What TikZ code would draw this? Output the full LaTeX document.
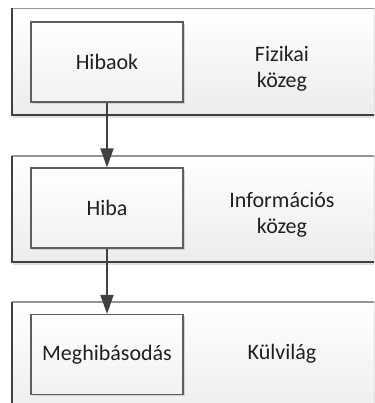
\documentclass[tikz,border=0pt]{standalone}
\usepackage{fontspec}
\setmainfont{Carlito}
\usetikzlibrary{arrows.meta,shadows}
\definecolor{edgedark}{HTML}{404040}
\definecolor{edgelight}{HTML}{959595}
\definecolor{boxedge}{HTML}{5E5E5E}
\definecolor{bandbot}{HTML}{ECECEC}
\definecolor{inktext}{HTML}{202020}
\tikzset{
  x=1pt, y=-1pt,
  band/.style={top color=white, bottom color=bandbot, draw=none},
  stepbox/.style={draw=boxedge, line width=1.2pt, top color=white, bottom color=bandbot!70!white,
    minimum width=152pt, minimum height=80pt, inner sep=0pt, text=inktext,
    font=\fontsize{22}{26}\selectfont,
    drop shadow={shadow xshift=1.6pt, shadow yshift=-1.6pt, fill=black!25, opacity=0.6}},
  label/.style={font=\fontsize{22}{26}\selectfont, align=center, text=inktext},
  flow/.style={draw=edgedark, line width=1.8pt, -{Triangle[length=19pt,width=13pt]}},
}
\begin{document}
\begin{tikzpicture}
\useasboundingbox (0,0) rectangle (374,403);
\clip (0,0) rectangle (374,403);
% three layer bands, open to the right
\foreach \t/\b in {8.5/115, 156/262, 302/420}{
  \fill[black!12] (13,\b+1) rectangle (380,\b+3);
  \fill[band] (12,\t) rectangle (380,\b);
  \draw[edgelight, line width=1.4pt] (12,\t) -- (380,\t);
  \draw[edgedark, line width=1.2pt] (12,\t) -- (12,\b) -- (380,\b);
}
% layer contents
\node[stepbox] (hibaok) at (107,62) {Hibaok};
\node[stepbox] (hiba) at (107,208) {Hiba};
\node[stepbox] (meghib) at (107,354.5) {Meghibásodás};
\node[label] (fiz) at (282,69) {Fizikai\\közeg};
\node[label] (inf) at (282,215) {Információs\\közeg};
\node[label] (kul) at (282,354) {Külvilág};
% causal chain
\draw[flow] (hibaok) -- (hiba);
\draw[flow] (hiba) -- (meghib);
\end{tikzpicture}
\end{document}
